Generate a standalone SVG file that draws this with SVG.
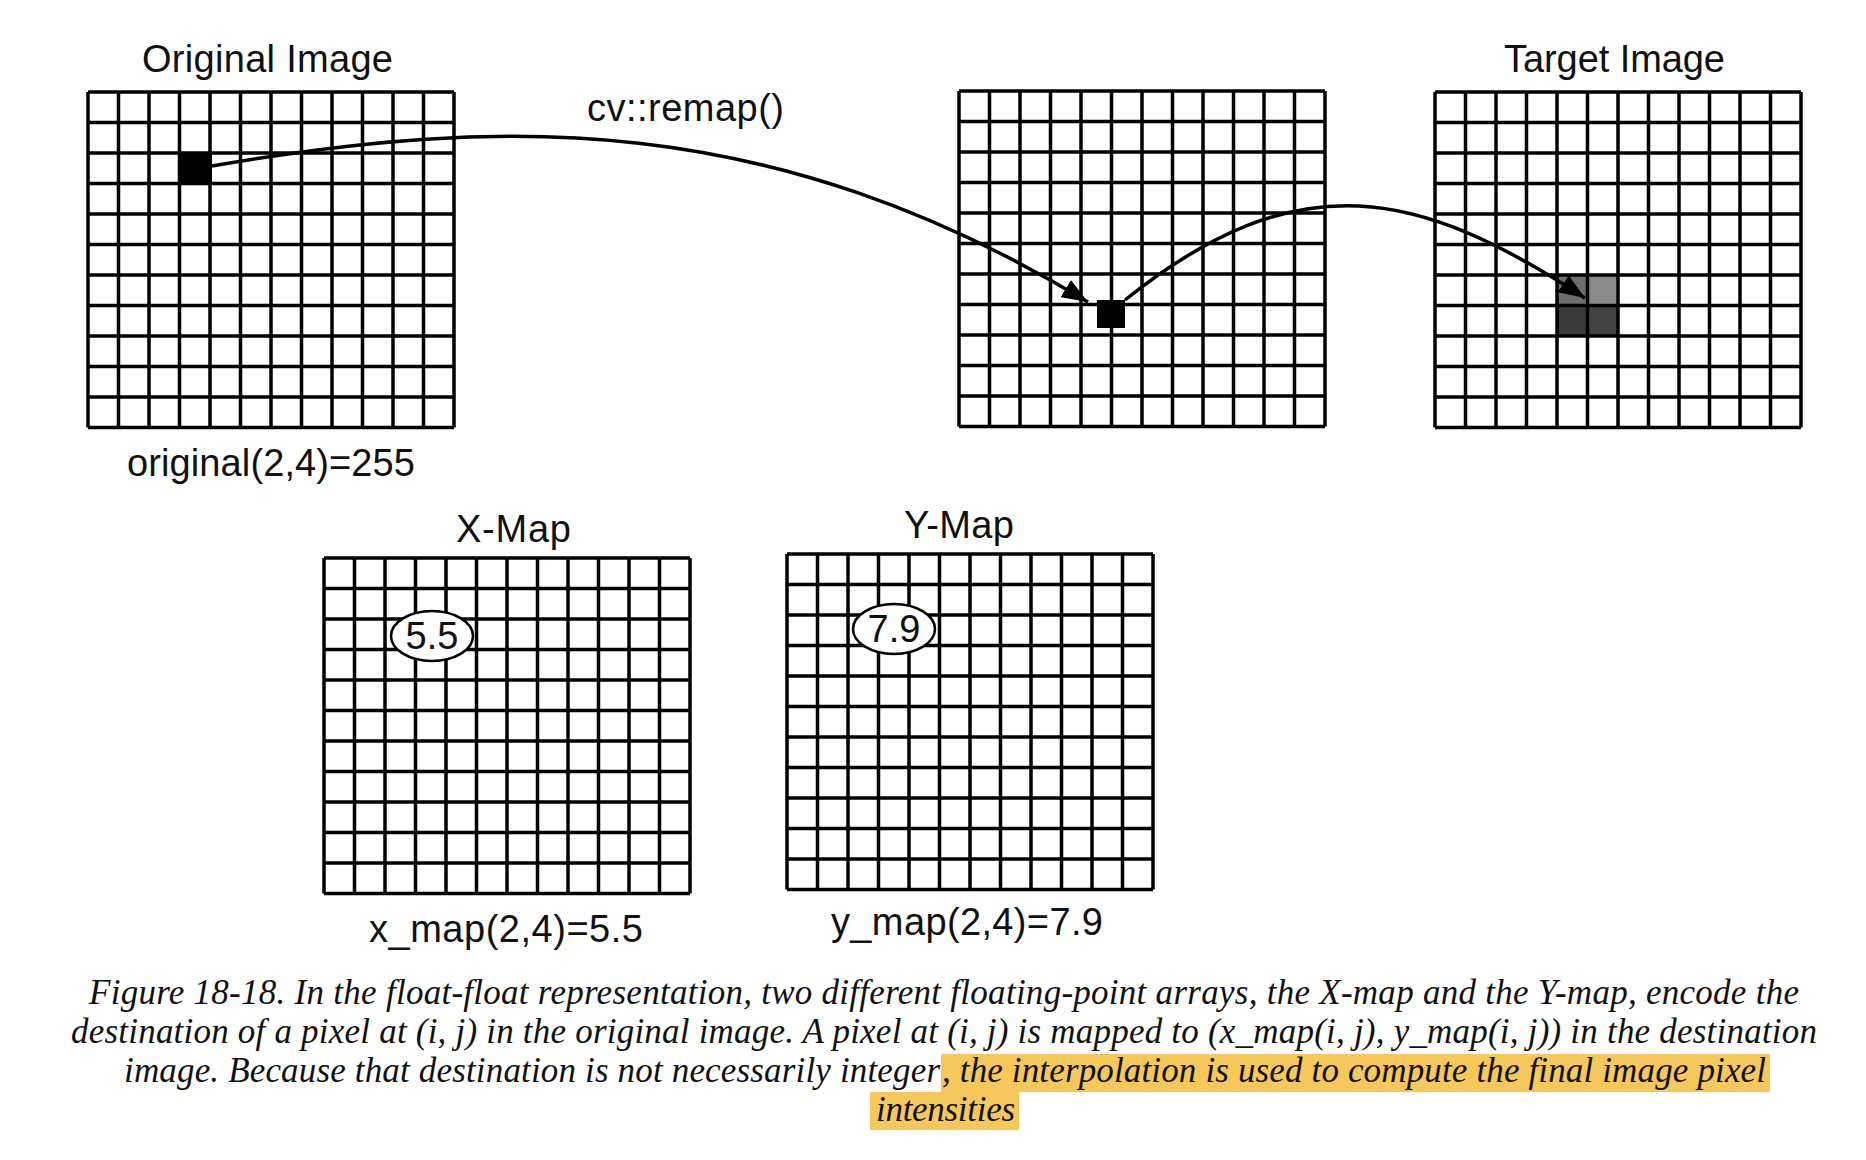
<svg xmlns="http://www.w3.org/2000/svg" xmlns:xlink="http://www.w3.org/1999/xlink" width="1866" height="1160" viewBox="0 0 1866 1160">
<style>
.lbl{font-family:"Liberation Sans",Arial,sans-serif;font-size:38px;fill:#111;}
.cap{font-family:"Liberation Serif","Times New Roman",serif;font-style:italic;font-size:35px;fill:#111;}
.grid{fill:none;stroke:#000;stroke-width:3.5;}
.conn{fill:none;stroke:#000;stroke-width:3.5;}
.oval{fill:#fff;stroke:#000;stroke-width:2.5;}
.hl{fill:#F6C85C;}
</style>
<defs>
<path id="grid" class="grid" d="M0,0V335.5M30.5,0V335.5M61,0V335.5M91.5,0V335.5M122,0V335.5M152.5,0V335.5M183,0V335.5M213.5,0V335.5M244,0V335.5M274.5,0V335.5M305,0V335.5M335.5,0V335.5M366,0V335.5M0,0H366M0,30.5H366M0,61H366M0,91.5H366M0,122H366M0,152.5H366M0,183H366M0,213.5H366M0,244H366M0,274.5H366M0,305H366M0,335.5H366"/>
<marker id="arr" viewBox="0 0 26 20" refX="26" refY="10" markerWidth="26" markerHeight="20" markerUnits="userSpaceOnUse" orient="auto"><path d="M0,0 L26,10 L0,20 z" fill="#000"/></marker>
</defs>
<rect width="1866" height="1160" fill="#fff"/>

<g id="node-original">
<text class="lbl" x="142" y="72" textLength="251" font-size="40">Original Image</text>
<rect x="180" y="153" width="32" height="31" fill="#000"/>
<use xlink:href="#grid" x="88" y="92"/>
<text class="lbl" x="127" y="476" textLength="288">original(2,4)=255</text>
</g>

<g id="node-intermediate">
<use xlink:href="#grid" x="959" y="91"/>
<rect x="1097" y="300" width="28" height="28" fill="#000"/>
</g>

<g id="node-target">
<text class="lbl" x="1504" y="72" textLength="221">Target Image</text>
<rect x="1557" y="275" width="31" height="31" fill="#6e6e6e"/>
<rect x="1588" y="275" width="30" height="31" fill="#8a8a8a"/>
<rect x="1557" y="306" width="31" height="30" fill="#3a3a3a"/>
<rect x="1588" y="306" width="30" height="30" fill="#424242"/>
<use xlink:href="#grid" x="1435" y="92"/>
</g>

<g id="node-xmap">
<text class="lbl" x="456" y="542" textLength="115">X-Map</text>
<use xlink:href="#grid" x="324" y="558"/>
<ellipse class="oval" cx="432" cy="636" rx="41" ry="25"/>
<text class="lbl" x="432" y="649" text-anchor="middle">5.5</text>
<text class="lbl" x="369" y="942" textLength="274">x_map(2,4)=5.5</text>
</g>

<g id="node-ymap">
<text class="lbl" x="904" y="538" textLength="110">Y-Map</text>
<use xlink:href="#grid" x="787" y="554"/>
<ellipse class="oval" cx="894" cy="629" rx="41" ry="25"/>
<text class="lbl" x="894" y="642" text-anchor="middle">7.9</text>
<text class="lbl" x="831" y="935" textLength="272">y_map(2,4)=7.9</text>
</g>

<g id="connectors">
<path class="conn" d="M212,166 C500,116 770,110 1088,302" marker-end="url(#arr)"/>
<text class="lbl" x="587" y="121" textLength="197">cv::remap()</text>
<path class="conn" d="M1125,300 C1300,160 1420,190 1585,298" marker-end="url(#arr)"/>
</g>

<g id="caption">
<rect class="hl" x="941" y="1054" width="829" height="38"/>
<rect class="hl" x="870" y="1092" width="149" height="38"/>
<text class="cap" x="89" y="1004" textLength="1710">Figure 18-18. In the float-float representation, two different floating-point arrays, the X-map and the Y-map, encode the</text>
<text class="cap" x="71" y="1043" textLength="1746">destination of a pixel at (i, j) in the original image. A pixel at (i, j) is mapped to (x_map(i, j), y_map(i, j)) in the destination</text>
<text class="cap" x="124" y="1082" textLength="816">image. Because that destination is not necessarily integer</text>
<text class="cap" x="942" y="1082" textLength="824">, the interpolation is used to compute the final image pixel</text>
<text class="cap" x="876" y="1121" textLength="139">intensities</text>
</g>
</svg>
